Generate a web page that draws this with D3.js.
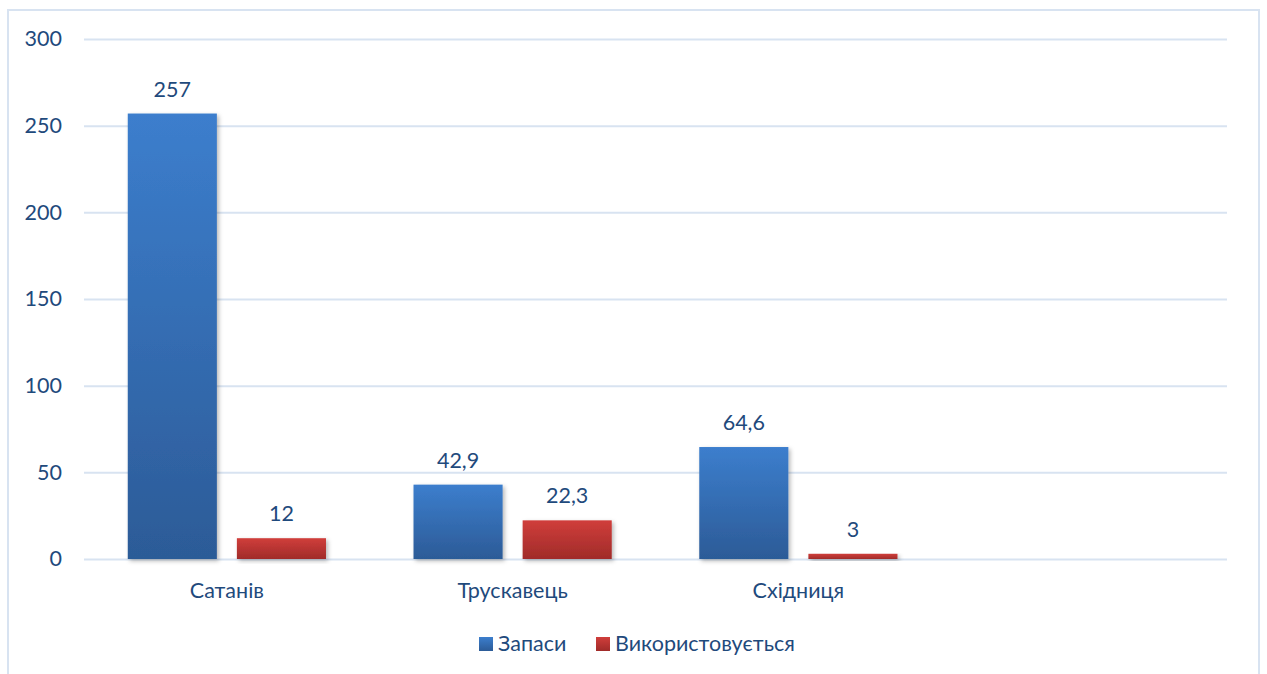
<!DOCTYPE html>
<html><head><meta charset="utf-8">
<script src="https://cdn.jsdelivr.net/npm/d3@7"></script>
<style>body{margin:0;background:#fff;}svg{display:block;font-family:Lato, "Noto Sans", sans-serif;}</style>
</head><body>
<svg id="c" width="1267" height="674"></svg>
<script>
const categories = ["Сатанів", "Трускавець", "Східниця", ""];
const seriesNames = ["Запаси", "Використовується"];
const zapasy = [257, 42.9, 64.6, null];
const vykorystovuetsia = [12, 22.3, 3, null];
const yTicks = [0, 50, 100, 150, 200, 250, 300];

const svg = d3.select("#c");
const textColor = "#1f4a7c";
const gridColor = "#d8e3f1";
const fs = 21.5;

const defs = svg.append("defs");
function grad(id, top, bot){
  const g = defs.append("linearGradient").attr("id", id).attr("x1",0).attr("y1",0).attr("x2",0).attr("y2",1);
  g.append("stop").attr("offset","0%").attr("stop-color", top);
  g.append("stop").attr("offset","100%").attr("stop-color", bot);
}
grad("gBlue", "#3c7ecd", "#2c5b97");
grad("gRed", "#d03e3b", "#a02b29");
const f = defs.append("filter").attr("id","sh").attr("x","-10%").attr("y","-10%").attr("width","130%").attr("height","130%");
f.append("feDropShadow").attr("dx",2).attr("dy",2).attr("stdDeviation",2).attr("flood-color","#000").attr("flood-opacity",0.28);

// border
svg.append("rect").attr("x",8).attr("y",10).attr("width",1251).attr("height",700)
  .attr("fill","none").attr("stroke",gridColor).attr("stroke-width",2);

const plotL = 84, plotR = 1227, plotT = 39, plotB = 559;
const y = d3.scaleLinear().domain([0,300]).range([plotB, plotT]);
const x0 = d3.scaleBand().domain(categories.map((d,i)=>i)).range([plotL, plotR]).paddingInner(0).paddingOuter(0);
const x1 = d3.scaleBand().domain([0,1]).range([0, x0.bandwidth()]).paddingInner(0.1835).paddingOuter(0.401);

// gridlines
const yAxis = d3.axisLeft(y).tickValues(yTicks).tickSize(-(plotR-plotL)).tickPadding(22).tickFormat(d3.format("d"));
const ga = svg.append("g").attr("transform",`translate(${plotL},0)`).call(yAxis);
ga.select(".domain").remove();
ga.selectAll(".tick line").attr("stroke",gridColor).attr("stroke-width",2);
ga.selectAll(".tick text").attr("fill",textColor).attr("font-size",fs).attr("font-family","Lato, 'Noto Sans', sans-serif");

const series = [zapasy, vykorystovuetsia];
const fills = ["url(#gBlue)", "url(#gRed)"];
const fmt = v => String(v).replace(".", ",");

series.forEach((vals, s) => {
  const g = svg.append("g");
  vals.forEach((v, i) => {
    if (v == null) return;
    const bx = x0(i) + x1(s);
    g.append("rect").attr("x", bx).attr("y", y(v)).attr("width", x1.bandwidth()).attr("height", y(0)-y(v))
      .attr("fill", fills[s]).attr("filter","url(#sh)");
    g.append("text").attr("x", bx + x1.bandwidth()/2).attr("y", y(v) - 17)
      .attr("text-anchor","middle").attr("fill",textColor).attr("font-size",fs).text(fmt(v));
  });
});

// category labels
const xAxis = d3.axisBottom(x0).tickSize(0).tickPadding(0).tickFormat(i => categories[i]);
const gx = svg.append("g").attr("transform",`translate(0,${plotB})`).call(xAxis);
gx.select(".domain").remove();
gx.selectAll(".tick text").attr("fill",textColor).attr("font-size",fs).attr("font-family","Lato, 'Noto Sans', sans-serif")
  .attr("dy",null).attr("y",39);

// legend
const legend = [{name: seriesNames[0], fill: fills[0], x: 479}, {name: seriesNames[1], fill: fills[1], x: 596}];
const lg = svg.append("g");
legend.forEach(l => {
  lg.append("rect").attr("x", l.x).attr("y", 637).attr("width", 14).attr("height", 14).attr("fill", l.fill);
  lg.append("text").attr("x", l.x + 19).attr("y", 651).attr("fill", textColor).attr("font-size", fs).text(l.name);
});
</script>
</body></html>
